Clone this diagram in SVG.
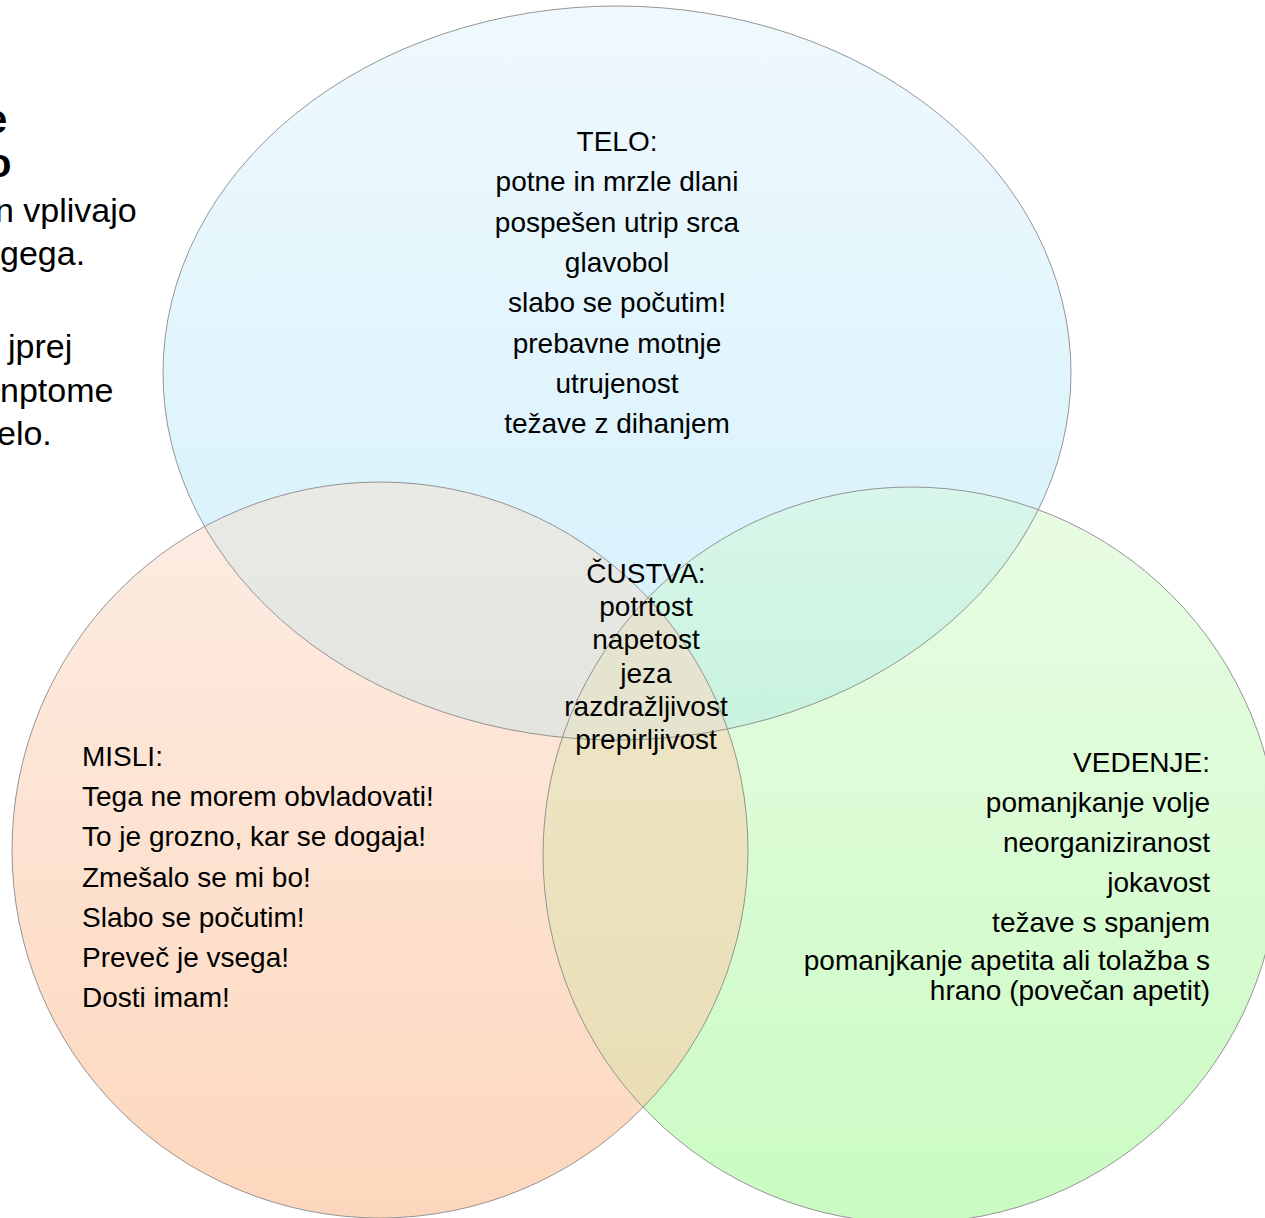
<svg xmlns="http://www.w3.org/2000/svg" width="1265" height="1218" viewBox="0 0 1265 1218">
<style>
  text { font-family: "Liberation Sans", Arial, sans-serif; fill: #000; }
  .t { font-size: 28px; }
  .intro { font-size: 34px; }
  .introb { font-size: 40px; font-weight: bold; }
  .c { text-anchor: middle; }
  .r { text-anchor: end; }
  .outline { fill: none; stroke: #8a8a8a; stroke-width: 1; stroke-opacity: 0.9; }
</style>
<defs>
  <linearGradient id="gBlue" gradientUnits="userSpaceOnUse" x1="0" y1="6" x2="0" y2="740">
    <stop offset="0" stop-color="#eff9fe"/>
    <stop offset="1" stop-color="#d3f0fb"/>
  </linearGradient>
  <linearGradient id="gOrange" gradientUnits="userSpaceOnUse" x1="0" y1="482" x2="0" y2="1218">
    <stop offset="0" stop-color="#fdede4"/>
    <stop offset="1" stop-color="#fdd7bd"/>
  </linearGradient>
  <linearGradient id="gGreen" gradientUnits="userSpaceOnUse" x1="0" y1="487" x2="0" y2="1223">
    <stop offset="0" stop-color="#e9fce5"/>
    <stop offset="1" stop-color="#cafbc2"/>
  </linearGradient>
  <linearGradient id="gGrey" gradientUnits="userSpaceOnUse" x1="0" y1="482" x2="0" y2="740">
    <stop offset="0" stop-color="#e9e9e6"/>
    <stop offset="1" stop-color="#e4e4df"/>
  </linearGradient>
  <linearGradient id="gMint" gradientUnits="userSpaceOnUse" x1="0" y1="487" x2="0" y2="735">
    <stop offset="0" stop-color="#d8f6ea"/>
    <stop offset="1" stop-color="#c8f3dd"/>
  </linearGradient>
  <linearGradient id="gTan" gradientUnits="userSpaceOnUse" x1="0" y1="595" x2="0" y2="1105">
    <stop offset="0" stop-color="#efe7ca"/>
    <stop offset="1" stop-color="#e9deb5"/>
  </linearGradient>
  <clipPath id="cBlue"><ellipse cx="617" cy="373" rx="454" ry="367"/></clipPath>
  <clipPath id="cOrange"><circle cx="380" cy="850" r="368"/></clipPath>
</defs>
<rect width="1265" height="1218" fill="#fff"/>

<g id="intro-text">
  <text class="introb" x="-15" y="133">e</text>
  <text class="introb" x="-13" y="177">o</text>
  <text class="intro" x="-5" y="222">n vplivajo</text>
  <text class="intro" x="0" y="265">gega.</text>
  <text class="intro" x="8" y="358">jprej</text>
  <text class="intro" x="0" y="402">nptome</text>
  <text class="intro" x="-3" y="445">elo.</text>
</g>

<g id="node-telo">
  <ellipse cx="617" cy="373" rx="454" ry="367" fill="url(#gBlue)"/>
  <text class="t c" x="617" y="151">TELO:</text>
  <text class="t c" x="617" y="191.3">potne in mrzle dlani</text>
  <text class="t c" x="617" y="231.6">pospešen utrip srca</text>
  <text class="t c" x="617" y="271.9">glavobol</text>
  <text class="t c" x="617" y="312.2">slabo se počutim!</text>
  <text class="t c" x="617" y="352.5">prebavne motnje</text>
  <text class="t c" x="617" y="392.8">utrujenost</text>
  <text class="t c" x="617" y="433.1">težave z dihanjem</text>
</g>

<g id="node-misli">
  <circle cx="380" cy="850" r="368" fill="url(#gOrange)"/>
  <text class="t" x="82" y="766">MISLI:</text>
  <text class="t" x="82" y="806.2">Tega ne morem obvladovati!</text>
  <text class="t" x="82" y="846.4">To je grozno, kar se dogaja!</text>
  <text class="t" x="82" y="886.6">Zmešalo se mi bo!</text>
  <text class="t" x="82" y="926.8">Slabo se počutim!</text>
  <text class="t" x="82" y="967">Preveč je vsega!</text>
  <text class="t" x="82" y="1007.2">Dosti imam!</text>
</g>

<g id="node-vedenje">
  <circle cx="911" cy="855" r="368" fill="url(#gGreen)"/>
  <text class="t r" x="1210" y="771.5">VEDENJE:</text>
  <text class="t r" x="1210" y="811.5">pomanjkanje volje</text>
  <text class="t r" x="1210" y="851.5">neorganiziranost</text>
  <text class="t r" x="1210" y="891.5">jokavost</text>
  <text class="t r" x="1210" y="931.5">težave s spanjem</text>
  <text class="t r" x="1210" y="970">pomanjkanje apetita ali tolažba s</text>
  <text class="t r" x="1210" y="1000">hrano (povečan apetit)</text>
</g>

<g id="overlaps">
  <circle cx="380" cy="850" r="368" fill="url(#gGrey)" clip-path="url(#cBlue)"/>
  <circle cx="911" cy="855" r="368" fill="url(#gMint)" clip-path="url(#cBlue)"/>
  <circle cx="911" cy="855" r="368" fill="url(#gTan)" clip-path="url(#cOrange)"/>
  <g clip-path="url(#cBlue)">
    <circle cx="911" cy="855" r="368" fill="#e5e4cf" clip-path="url(#cOrange)"/>
  </g>
</g>

<g id="outlines">
  <ellipse class="outline" cx="617" cy="373" rx="454" ry="367"/>
  <circle class="outline" cx="380" cy="850" r="368"/>
  <circle class="outline" cx="911" cy="855" r="368"/>
</g>

<g id="node-custva">
  <text class="t c" x="646" y="583">ČUSTVA:</text>
  <text class="t c" x="646" y="616">potrtost</text>
  <text class="t c" x="646" y="649">napetost</text>
  <text class="t c" x="646" y="682.5">jeza</text>
  <text class="t c" x="646" y="716">razdražljivost</text>
  <text class="t c" x="646" y="749">prepirljivost</text>
</g>

<g id="connectors"></g>
</svg>
